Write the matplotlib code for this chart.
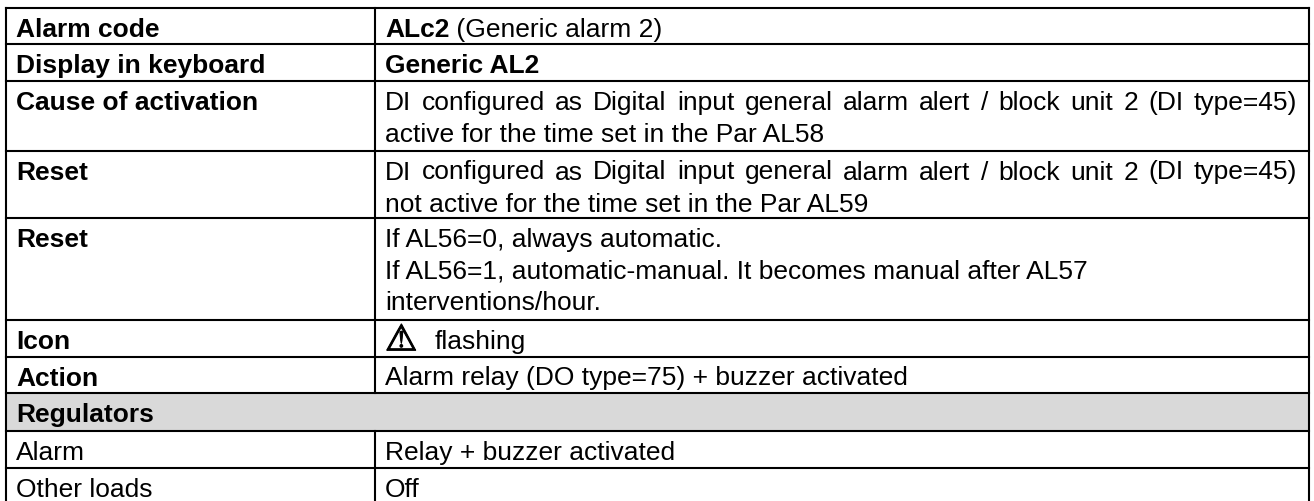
#!/usr/bin/env python3
import matplotlib
matplotlib.use('Agg')
import matplotlib.pyplot as plt
import matplotlib.patheffects as pe

plt.rcParams['font.family'] = ['Liberation Sans', 'DejaVu Sans']

row_heads = ['Alarm code', 'Display in keyboard', 'Cause of activation', 'Reset', 'Reset',
             'Icon', 'Action', 'Regulators', 'Alarm', 'Other loads']
row_bold = [True, True, True, True, True, True, True, True, False, False]
# text of the right column, one list per row, one string per printed line
row_texts = [
    [' (Generic alarm 2)'],
    ['Generic AL2'],
    ['DI configured as Digital input general alarm alert / block unit 2 (DI type=45)',
     'active for the time set in the Par AL58'],
    ['DI configured as Digital input general alarm alert / block unit 2 (DI type=45)',
     'not active for the time set in the Par AL59'],
    ['If AL56=0, always automatic.',
     'If AL56=1, automatic-manual. It becomes manual after AL57',
     'interventions/hour.'],
    ['flashing'],
    ['Alarm relay (DO type=75) + buzzer activated'],
    [],
    ['Relay + buzzer activated'],
    ['Off'],
]
# row boundaries, pixels from the top; the table runs off the bottom of the picture
row_lines = [8, 44.3, 81.3, 150.7, 217.7, 320, 356.7, 393.3, 431, 468.3]
W, H = 1314, 501
left, mid, right = 6, 375, 1308.5
fs = 19
lw = 1.5
line_gap = 32
base = 28.8

fig = plt.figure(figsize=(W / 100, H / 100), dpi=100)
ax = fig.add_axes([0, 0, 1, 1])
ax.set_xlim(0, W)
ax.set_ylim(H, 0)
ax.axis('off')
rend = fig.canvas.get_renderer()


def put(x, y, s, size=fs, **kw):
    t = ax.text(x, y, s, fontsize=size, va='baseline', color='black', **kw)
    return t.get_window_extent(rend).width


def put_justified(x, y, s, x_end):
    # the long lines fill the cell, so the extra room goes between the words
    words = s.split(' ')
    probe = ax.text(0, 0, s.replace(' ', '\u00a0'), fontsize=fs)
    full = probe.get_window_extent(rend).width
    probe.remove()
    probe = ax.text(0, 0, '\u00a0', fontsize=fs)
    space = probe.get_window_extent(rend).width
    probe.remove()
    extra = (x_end - x - full) / (len(words) - 1)
    for w in words:
        x += put(x, y, w) + space + extra


ax.axhspan(row_lines[7], row_lines[8], xmin=left / W, xmax=right / W, color='#d9d9d9', lw=0)
for y in row_lines:
    ax.plot([left, right], [y, y], color='black', lw=lw, solid_capstyle='projecting')
ax.plot([left, left], [row_lines[0], H], color='black', lw=lw)
ax.plot([right, right], [row_lines[0], H], color='black', lw=lw)
ax.plot([mid, mid], [row_lines[0], row_lines[7]], color='black', lw=lw)
ax.plot([mid, mid], [row_lines[8], H], color='black', lw=lw)

for i, head in enumerate(row_heads):
    y0 = row_lines[i] + base
    put(16, y0, head, fontweight='bold' if row_bold[i] else 'normal')
    for j, line in enumerate(row_texts[i]):
        y = y0 + j * line_gap
        if i == 0:
            x = 385 + put(385, y, 'ALc2', fontweight='bold')
            put(x, y, line.replace(' ', '\u00a0', 1))
        elif i == 1:
            put(385, y, line, fontweight='bold')
        elif i == 5:
            # the glyph is thin, thicken it to look like the printed icon
            put(385, y + 1.5, '\u26a0', size=26, family='DejaVu Sans',
                path_effects=[pe.withStroke(linewidth=0.8, foreground='black')])
            put(435, y, line)
        elif i in (2, 3) and j == 0:
            put_justified(385, y, line, 1297)
        else:
            put(385, y, line)

plt.savefig('out.png', dpi=100)
plt.close()
